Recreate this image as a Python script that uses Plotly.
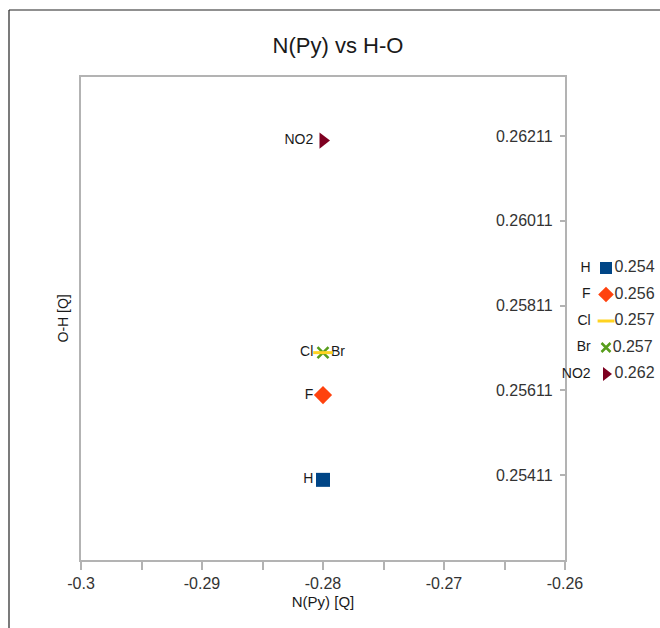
import plotly.graph_objects as go

# ---- data ----
names = ["H", "F", "Cl", "Br", "NO2"]
x_vals = [-0.28, -0.28, -0.28, -0.28, -0.28]
y_vals = [0.254, 0.256, 0.257, 0.257, 0.262]
colors = ["#004586", "#ff420e", "#ffd320", "#579d1c", "#7e0021"]
symbols = ["square", "diamond", "line-ew", "x-thin", "triangle-right"]
label_pos = ["middle left", "middle left", "middle left", "middle right", "middle left"]
x_ticks = [-0.3, -0.29, -0.28, -0.27, -0.26]
x_tick_labels = ["-0.3", "-0.29", "-0.28", "-0.27", "-0.26"]
y_ticks = [0.25411, 0.25611, 0.25811, 0.26011, 0.26211]
y_tick_labels = ["0.25411", "0.25611", "0.25811", "0.26011", "0.26211"]
x_range = [-0.3, -0.26]
y_range = [0.25211, 0.2635]

W, H = 660, 628
PL, PR, PT, PB = 81, 565, 77, 560          # main plot box (px)
ML, MT, MB, MR = PL, PT, H - PB, 0
RW, RH = W - ML - MR, PB - PT              # plotting region size

def fx(px):
    return (px - ML) / RW

def fy(py):
    return (PB - py) / RH

FONT = "Liberation Sans, Arial, sans-serif"
TXT = "#1a1a1a"
GRAY = "#b3b3b3"

def marker_style(sym, color, base):
    if sym == "line-ew":
        return dict(symbol=sym, size=base, color=color, line=dict(width=3, color=color))
    if sym == "x-thin":
        return dict(symbol=sym, size=base - 3, color=color, line=dict(width=2.5, color=color))
    return dict(symbol=sym, size=base, color=color, line=dict(width=0, color=color))

fig = go.Figure()

# main scatter (Br drawn before Cl so the dash sits on top, as in the original)
for i in [0, 1, 3, 2, 4]:
    fig.add_trace(go.Scatter(
        x=[x_vals[i]], y=[y_vals[i]],
        mode="markers+text",
        text=[names[i]],
        textposition=label_pos[i],
        textfont=dict(family=FONT, size=14, color=TXT),
        marker=marker_style(symbols[i], colors[i], 14),
        name=names[i], showlegend=False, cliponaxis=False,
        xaxis="x", yaxis="y",
    ))

# legend panel (right margin) built from the same series
for i in range(len(names)):
    ms = marker_style(symbols[i], colors[i], 12)
    fig.add_trace(go.Scatter(
        x=[0], y=[i], mode="markers+text",
        text=[f"{y_vals[i]:.3f}"], textposition="middle right",
        textfont=dict(family=FONT, size=16, color="#333333"),
        marker=ms, showlegend=False, cliponaxis=False,
        hoverinfo="skip", xaxis="x2", yaxis="y2",
    ))
    fig.add_trace(go.Scatter(
        x=[0], y=[i], mode="markers+text",
        text=[names[i]], textposition="middle left",
        textfont=dict(family=FONT, size=14, color=TXT),
        marker=dict(symbol="square", size=23, opacity=0),
        showlegend=False, cliponaxis=False,
        hoverinfo="skip", xaxis="x2", yaxis="y2",
    ))

LEG_X0 = 573.0          # legend panel left edge (px)
LEG_SYM_X = 606.0       # symbol centre
LEG_ROW0, LEG_STEP = 268.0, 26.5
leg_dom0 = fx(LEG_X0)
leg_w = W - LEG_X0
x2_range = [-(LEG_SYM_X - LEG_X0) / leg_w, 1 - (LEG_SYM_X - LEG_X0) / leg_w]
y2_range = [(len(names) - 1) + (PB - (LEG_ROW0 + LEG_STEP * (len(names) - 1))) / LEG_STEP,
            -(LEG_ROW0 - PT) / LEG_STEP]

fig.update_layout(
    width=W, height=H,
    margin=dict(l=ML, r=MR, t=MT, b=MB, autoexpand=False),
    paper_bgcolor="white", plot_bgcolor="white",
    showlegend=False,
    title=dict(text="N(Py) vs H-O", x=338 / W, xanchor="center",
               y=1 - 45 / H, yanchor="middle",
               font=dict(family=FONT, size=22, color=TXT)),
    font=dict(family=FONT, color="#333333"),
    xaxis=dict(
        domain=[0, (PR - PL) / RW],
        range=x_range, tickvals=x_ticks, ticktext=x_tick_labels,
        ticklabeloverflow="allow",
        showgrid=False, zeroline=False,
        showline=True, linecolor=GRAY, linewidth=1.5, mirror=True,
        ticks="outside", ticklen=8, tickcolor=GRAY, tickwidth=1.5,
        minor=dict(dtick=0.005, tick0=-0.3, ticks="outside", ticklen=8,
                   tickcolor=GRAY, tickwidth=1.5, showgrid=False),
        tickfont=dict(family=FONT, size=16, color="#333333"),
        title=dict(text="N(Py) [Q]", standoff=6,
                   font=dict(family=FONT, size=15, color=TXT)),
    ),
    yaxis=dict(
        range=y_range, side="right",
        tickvals=y_ticks, ticktext=y_tick_labels,
        ticklabelposition="outside", ticklabelstandoff=-74,
        ticklabeloverflow="allow",
        showgrid=False, zeroline=False,
        showline=True, linecolor=GRAY, linewidth=1.5, mirror=True,
        ticks="inside", ticklen=5, tickcolor=GRAY, tickwidth=1.5,
        tickfont=dict(family=FONT, size=16, color="#333333"),
    ),
    xaxis2=dict(domain=[leg_dom0, 1], range=x2_range, visible=False,
                fixedrange=True, anchor="y2"),
    yaxis2=dict(domain=[0, 1], range=y2_range, visible=False,
                fixedrange=True, anchor="x2"),
    annotations=[dict(
        text="O-H [Q]", xref="paper", yref="paper",
        x=fx(62), y=0.5, textangle=-90, showarrow=False,
        font=dict(family=FONT, size=14, color=TXT),
        xanchor="center", yanchor="middle")],
    shapes=[
        dict(type="line", xref="paper", yref="paper",
             x0=fx(9), x1=fx(W + 20), y0=fy(10), y1=fy(10),
             line=dict(color="#222222", width=1.2)),
        dict(type="line", xref="paper", yref="paper",
             x0=fx(9), x1=fx(9), y0=fy(10), y1=fy(H + 30),
             line=dict(color="#222222", width=1.2)),
    ],
)

fig.write_html(
    "out.html",
    config={"displayModeBar": False},
    post_script=(
        "document.documentElement.style.overflow='hidden';"
        "document.body.style.margin='0';"
        "document.body.style.overflow='hidden';"
    ),
)
